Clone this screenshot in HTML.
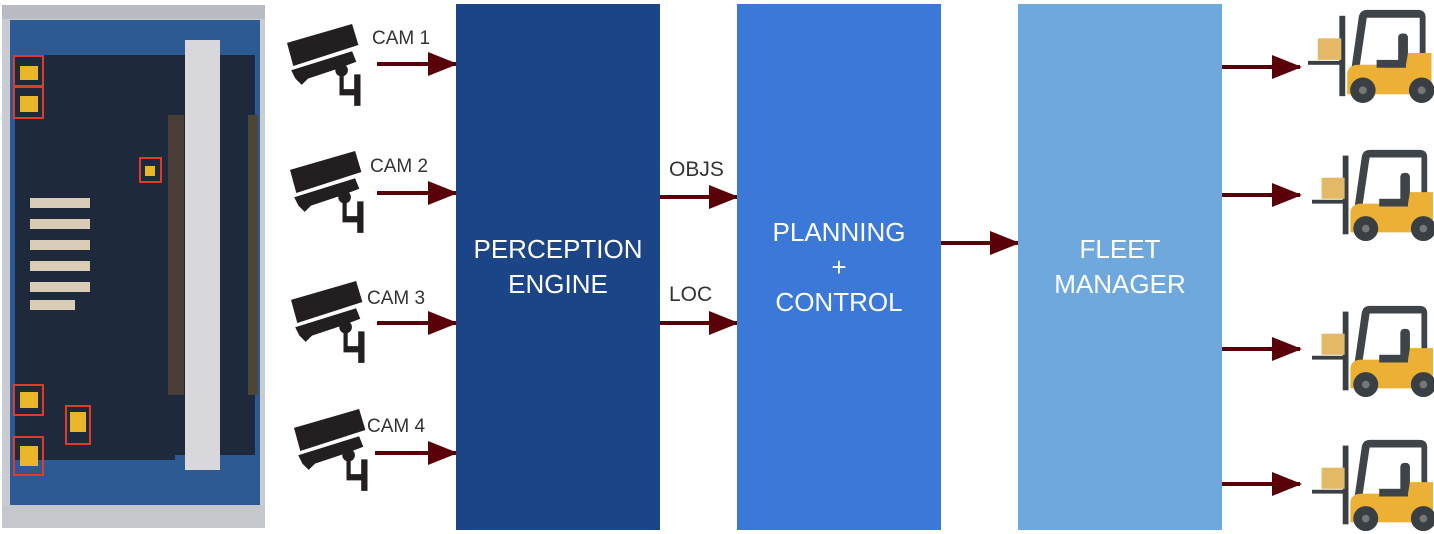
<!DOCTYPE html>
<html><head><meta charset="utf-8"><style>
body{margin:0;width:1434px;height:534px;background:#fff;position:relative;overflow:hidden;font-family:"Liberation Sans",sans-serif}
.blk{position:absolute;top:4px;height:526px;width:204px;color:#fff;font-size:26px;display:flex;align-items:center;justify-content:center;text-align:center;line-height:35px}
.lbl{position:absolute;font-size:19px;color:#333}
svg{position:absolute;left:0;top:0}
</style></head><body>
<svg width="1434" height="534">
<defs>
<marker id="ah" markerWidth="30" markerHeight="24" refX="28" refY="12" orient="auto" markerUnits="userSpaceOnUse"><path d="M0,0 L30,12 L0,24 Z" fill="#5a0008"/></marker>
<g id="cam">
<path d="M0,18 L62,0 L68,20 L6,40 Z" fill="#231f20"/>
<path d="M4,44 L62,26 L66,36 L50,42 L20,52 L14,58 L8,52 Z" fill="#231f20"/>
<circle cx="52" cy="44" r="6" fill="#231f20"/>
<path d="M50,48 L54,48 L54,62 L64,62 L64,48 L70,48 L70,78 L64,78 L64,68 L50,68 Z" fill="#231f20"/>
</g>
<g id="fork">
<rect x="32" y="10" width="6" height="82" fill="#3a3f44"/>
<rect x="0" y="56" width="36" height="4" fill="#3a3f44"/>
<rect x="10" y="33" width="24" height="22" fill="#e3b866"/>
<path d="M42,80 L52,10 Q54,4 60,4 L112,4 Q120,4 120,12 L120,60 L114,60 L114,12 L60,12 L50,80 Z" fill="#3f4449"/>
<rect x="92" y="28" width="10" height="36" rx="4" fill="#3f4449"/>
<path d="M40,70 Q40,60 52,60 L100,60 L102,48 L126,48 L126,90 L40,90 Z" fill="#ebb034"/>
<rect x="70" y="55" width="30" height="8" fill="#3f4449"/>
<circle cx="56" cy="86" r="13" fill="#3a3f44"/><circle cx="56" cy="86" r="4" fill="#777"/>
<circle cx="116" cy="86" r="13" fill="#3a3f44"/><circle cx="116" cy="86" r="4" fill="#777"/>
</g>
</defs>
<rect x="2" y="5" width="263" height="523" fill="#c9ccd0"/>
<rect x="10" y="20" width="250" height="495" fill="#2c5a93"/>
<rect x="2" y="5" width="263" height="14" fill="#b8bcc2"/>
<rect x="2" y="505" width="263" height="23" fill="#c4c7cc"/>
<rect x="15" y="55" width="240" height="400" fill="#1e2a3c"/>
<rect x="15" y="450" width="160" height="10" fill="#1e2a3c"/>
<rect x="185" y="40" width="35" height="430" fill="#d8d8dc"/>
<rect x="168" y="115" width="16" height="280" fill="#4a3f38"/>
<rect x="248" y="115" width="10" height="280" fill="#4d4538"/>
<g fill="#d9cdb8">
<rect x="30" y="198" width="60" height="10"/><rect x="30" y="219" width="60" height="10"/><rect x="30" y="240" width="60" height="10"/><rect x="30" y="261" width="60" height="10"/><rect x="30" y="282" width="60" height="10"/><rect x="30" y="300" width="45" height="10"/>
</g>
<g fill="none" stroke="#e03a2a" stroke-width="2">
<rect x="14" y="56" width="29" height="30"/><rect x="14" y="87" width="29" height="31"/><rect x="140" y="158" width="21" height="24"/>
<rect x="14" y="385" width="29" height="30"/><rect x="66" y="406" width="24" height="38"/><rect x="14" y="437" width="29" height="38"/>
</g>
<g fill="#e9b62a"><rect x="20" y="66" width="18" height="14"/><rect x="20" y="96" width="18" height="16"/><rect x="20" y="392" width="18" height="16"/><rect x="70" y="412" width="16" height="20"/><rect x="20" y="446" width="18" height="20"/><rect x="145" y="166" width="10" height="10"/></g>
<g transform="translate(287,24) scale(1.05)"><use href="#cam"/></g>
<g transform="translate(290,151) scale(1.05)"><use href="#cam"/></g>
<g transform="translate(291,281) scale(1.05)"><use href="#cam"/></g>
<g transform="translate(294,409) scale(1.05)"><use href="#cam"/></g>
<g stroke="#5a0008" stroke-width="4" marker-end="url(#ah)">
<line x1="377" y1="64" x2="456" y2="64"/>
<line x1="377" y1="193" x2="456" y2="193"/>
<line x1="377" y1="323" x2="456" y2="323"/>
<line x1="375" y1="453" x2="456" y2="453"/>
<line x1="660" y1="197" x2="737" y2="197"/>
<line x1="660" y1="323" x2="737" y2="323"/>
<line x1="941" y1="243" x2="1018" y2="243"/>
<line x1="1222" y1="67" x2="1300" y2="67"/>
<line x1="1222" y1="195" x2="1300" y2="195"/>
<line x1="1222" y1="349" x2="1300" y2="349"/>
<line x1="1222" y1="484" x2="1300" y2="484"/>
</g>
<g transform="translate(1308,6) scale(0.98)"><use href="#fork"/></g>
<g transform="translate(1312,146) scale(0.96)"><use href="#fork"/></g>
<g transform="translate(1312,302) scale(0.96)"><use href="#fork"/></g>
<g transform="translate(1312,436) scale(0.96)"><use href="#fork"/></g>
</svg>
<div class="lbl" style="left:372px;top:28px">CAM 1</div>
<div class="lbl" style="left:370px;top:156px">CAM 2</div>
<div class="lbl" style="left:367px;top:288px">CAM 3</div>
<div class="lbl" style="left:367px;top:416px">CAM 4</div>
<div class="lbl" style="left:669px;top:158px;font-size:21px">OBJS</div>
<div class="lbl" style="left:669px;top:283px;font-size:21px">LOC</div>
<div class="blk" style="left:456px;background:#1c4587">PERCEPTION<br>ENGINE</div>
<div class="blk" style="left:737px;background:#3c78d8">PLANNING<br>+<br>CONTROL</div>
<div class="blk" style="left:1018px;background:#6fa8dc">FLEET<br>MANAGER</div>
</body></html>
